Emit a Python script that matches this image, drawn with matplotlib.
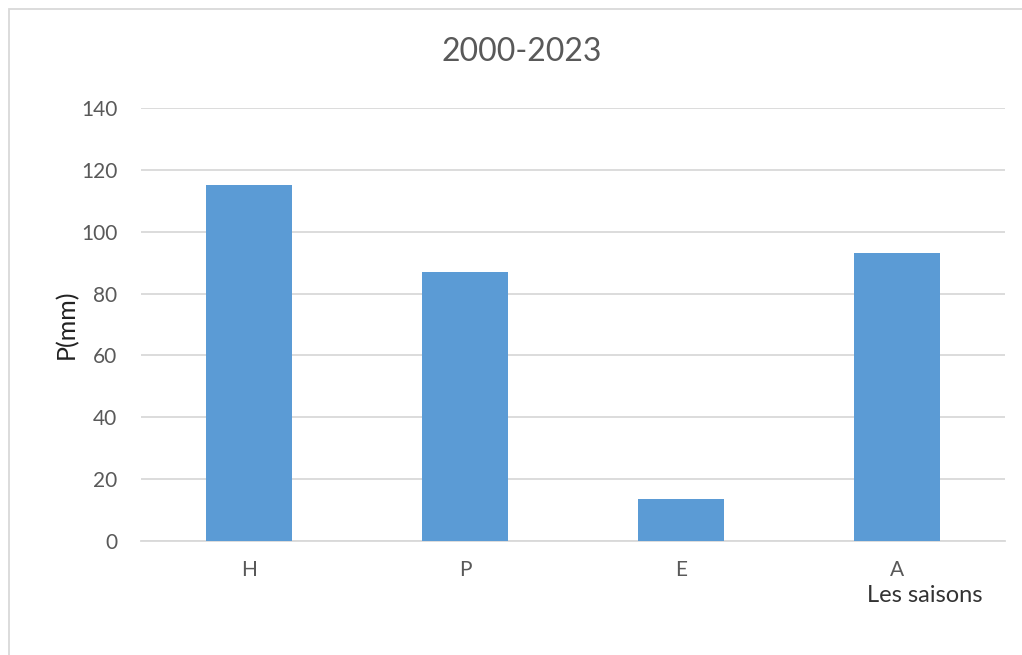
import matplotlib
matplotlib.use("Agg")
import matplotlib.pyplot as plt
from matplotlib.patches import Rectangle

categories = ["H", "P", "E", "A"]
values = [115, 87, 13.6, 93.2]
yticks = [0, 20, 40, 60, 80, 100, 120, 140]

plt.rcParams['font.family'] = ['Lato', 'DejaVu Sans']

fig = plt.figure(figsize=(10.22, 6.55), dpi=100)
fig.patch.set_facecolor("white")
ax = fig.add_axes([141/1022, 1-541/655, 864/1022, 433/655])

x = list(range(len(categories)))
ax.bar(x, values, width=0.4, color="#5B9BD5", zorder=3)
ax.set_xlim(-0.5, len(categories) - 0.5)
ax.set_ylim(0, 140)
ax.set_yticks(yticks)
ax.set_xticks(x)
ax.set_xticklabels(categories)
ax.grid(axis="y", color="#d9d9d9", linewidth=1.3, zorder=0)
for s in ["top", "right", "left"]:
    ax.spines[s].set_visible(False)
ax.spines["bottom"].set_color("#d9d9d9")
ax.spines["bottom"].set_linewidth(1.3)
ax.tick_params(axis="both", length=0, labelsize=15, colors="#595959")
ax.tick_params(axis="y", pad=17)
ax.tick_params(axis="x", pad=14)

ax.set_ylabel("P(mm)", fontsize=18, color="#222222", labelpad=2)
fig.text(925/1022, 1-595/655, "Les saisons", fontsize=17, color="#333333",
         ha="center", va="center")
fig.text(522/1022, 1-52/655, "2000-2023", fontsize=23, color="#595959",
         ha="center", va="center")

# chart border
fig.add_artist(Rectangle((8.5/1022, -0.1), 1.2, 1 - 9.5/655 + 0.1,
                         transform=fig.transFigure, fill=False,
                         edgecolor="#d9d9d9", linewidth=1.3))

fig.savefig("out.png", dpi=100)
